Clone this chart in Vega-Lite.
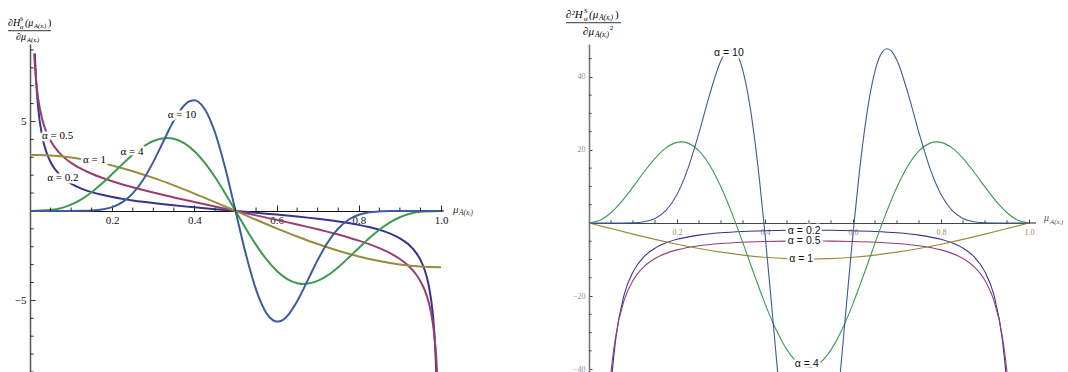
{
  "$schema": "https://vega.github.io/schema/vega-lite/v6.json",
  "background": "white",
  "padding": {"left": 7, "top": 8, "right": 0, "bottom": 0},
  "spacing": 148,
  "bounds": "flush",
  "config": {"view": {"stroke": null}, "axis": {"grid": false, "labelOverlap": false}},
  "datasets": {
    "first": [
      {"mu": 0.0117, "alpha": "0.2", "value": 8.8}, {"mu": 0.015, "alpha": "0.2", "value": 7.233}, {"mu": 0.02, "alpha": "0.2", "value": 5.741}, {"mu": 0.03, "alpha": "0.2", "value": 4.143}, {"mu": 0.04, "alpha": "0.2", "value": 3.283}, {"mu": 0.05, "alpha": "0.2", "value": 2.737}, {"mu": 0.06, "alpha": "0.2", "value": 2.356}, {"mu": 0.08, "alpha": "0.2", "value": 1.853}, {"mu": 0.1, "alpha": "0.2", "value": 1.529}, {"mu": 0.125, "alpha": "0.2", "value": 1.252}, {"mu": 0.15, "alpha": "0.2", "value": 1.053}, {"mu": 0.175, "alpha": "0.2", "value": 0.901}, {"mu": 0.2, "alpha": "0.2", "value": 0.778}, {"mu": 0.225, "alpha": "0.2", "value": 0.675}, {"mu": 0.25, "alpha": "0.2", "value": 0.586}, {"mu": 0.275, "alpha": "0.2", "value": 0.508}, {"mu": 0.3, "alpha": "0.2", "value": 0.438}, {"mu": 0.325, "alpha": "0.2", "value": 0.373}, {"mu": 0.35, "alpha": "0.2", "value": 0.313}, {"mu": 0.375, "alpha": "0.2", "value": 0.256}, {"mu": 0.4, "alpha": "0.2", "value": 0.202}, {"mu": 0.425, "alpha": "0.2", "value": 0.15}, {"mu": 0.45, "alpha": "0.2", "value": 0.099}, {"mu": 0.475, "alpha": "0.2", "value": 0.049}, {"mu": 0.5, "alpha": "0.2", "value": 0}, {"mu": 0.525, "alpha": "0.2", "value": -0.049}, {"mu": 0.55, "alpha": "0.2", "value": -0.099}, {"mu": 0.575, "alpha": "0.2", "value": -0.15}, {"mu": 0.6, "alpha": "0.2", "value": -0.202}, {"mu": 0.625, "alpha": "0.2", "value": -0.256}, {"mu": 0.65, "alpha": "0.2", "value": -0.313}, {"mu": 0.675, "alpha": "0.2", "value": -0.373}, {"mu": 0.7, "alpha": "0.2", "value": -0.438}, {"mu": 0.725, "alpha": "0.2", "value": -0.508}, {"mu": 0.75, "alpha": "0.2", "value": -0.586}, {"mu": 0.775, "alpha": "0.2", "value": -0.675}, {"mu": 0.8, "alpha": "0.2", "value": -0.778}, {"mu": 0.825, "alpha": "0.2", "value": -0.901}, {"mu": 0.85, "alpha": "0.2", "value": -1.053}, {"mu": 0.875, "alpha": "0.2", "value": -1.252}, {"mu": 0.9, "alpha": "0.2", "value": -1.529}, {"mu": 0.92, "alpha": "0.2", "value": -1.853}, {"mu": 0.94, "alpha": "0.2", "value": -2.356}, {"mu": 0.95, "alpha": "0.2", "value": -2.737}, {"mu": 0.96, "alpha": "0.2", "value": -3.283}, {"mu": 0.97, "alpha": "0.2", "value": -4.143}, {"mu": 0.98, "alpha": "0.2", "value": -5.741}, {"mu": 0.985, "alpha": "0.2", "value": -7.233}, {"mu": 0.99, "alpha": "0.2", "value": -10.01},
      {"mu": 0.0101, "alpha": "0.5", "value": 8.8}, {"mu": 0.015, "alpha": "0.5", "value": 7.23}, {"mu": 0.02, "alpha": "0.5", "value": 6.256}, {"mu": 0.03, "alpha": "0.5", "value": 5.098}, {"mu": 0.04, "alpha": "0.5", "value": 4.402}, {"mu": 0.05, "alpha": "0.5", "value": 3.923}, {"mu": 0.06, "alpha": "0.5", "value": 3.564}, {"mu": 0.08, "alpha": "0.5", "value": 3.051}, {"mu": 0.1, "alpha": "0.5", "value": 2.688}, {"mu": 0.125, "alpha": "0.5", "value": 2.346}, {"mu": 0.15, "alpha": "0.5", "value": 2.077}, {"mu": 0.175, "alpha": "0.5", "value": 1.853}, {"mu": 0.2, "alpha": "0.5", "value": 1.658}, {"mu": 0.225, "alpha": "0.5", "value": 1.482}, {"mu": 0.25, "alpha": "0.5", "value": 1.321}, {"mu": 0.275, "alpha": "0.5", "value": 1.17}, {"mu": 0.3, "alpha": "0.5", "value": 1.027}, {"mu": 0.325, "alpha": "0.5", "value": 0.889}, {"mu": 0.35, "alpha": "0.5", "value": 0.756}, {"mu": 0.375, "alpha": "0.5", "value": 0.625}, {"mu": 0.4, "alpha": "0.5", "value": 0.498}, {"mu": 0.425, "alpha": "0.5", "value": 0.372}, {"mu": 0.45, "alpha": "0.5", "value": 0.247}, {"mu": 0.475, "alpha": "0.5", "value": 0.123}, {"mu": 0.5, "alpha": "0.5", "value": 0}, {"mu": 0.525, "alpha": "0.5", "value": -0.123}, {"mu": 0.55, "alpha": "0.5", "value": -0.247}, {"mu": 0.575, "alpha": "0.5", "value": -0.372}, {"mu": 0.6, "alpha": "0.5", "value": -0.498}, {"mu": 0.625, "alpha": "0.5", "value": -0.625}, {"mu": 0.65, "alpha": "0.5", "value": -0.756}, {"mu": 0.675, "alpha": "0.5", "value": -0.889}, {"mu": 0.7, "alpha": "0.5", "value": -1.027}, {"mu": 0.725, "alpha": "0.5", "value": -1.17}, {"mu": 0.75, "alpha": "0.5", "value": -1.321}, {"mu": 0.775, "alpha": "0.5", "value": -1.482}, {"mu": 0.8, "alpha": "0.5", "value": -1.658}, {"mu": 0.825, "alpha": "0.5", "value": -1.853}, {"mu": 0.85, "alpha": "0.5", "value": -2.077}, {"mu": 0.875, "alpha": "0.5", "value": -2.346}, {"mu": 0.9, "alpha": "0.5", "value": -2.688}, {"mu": 0.92, "alpha": "0.5", "value": -3.051}, {"mu": 0.94, "alpha": "0.5", "value": -3.564}, {"mu": 0.95, "alpha": "0.5", "value": -3.923}, {"mu": 0.96, "alpha": "0.5", "value": -4.402}, {"mu": 0.97, "alpha": "0.5", "value": -5.098}, {"mu": 0.98, "alpha": "0.5", "value": -6.256}, {"mu": 0.985, "alpha": "0.5", "value": -7.23}, {"mu": 0.99, "alpha": "0.5", "value": -8.858}, {"mu": 0.995, "alpha": "0.5", "value": -12.53},
      {"mu": 0, "alpha": "1", "value": 3.142}, {"mu": 0.05, "alpha": "1", "value": 3.103}, {"mu": 0.1, "alpha": "1", "value": 2.988}, {"mu": 0.15, "alpha": "1", "value": 2.799}, {"mu": 0.2, "alpha": "1", "value": 2.542}, {"mu": 0.25, "alpha": "1", "value": 2.221}, {"mu": 0.3, "alpha": "1", "value": 1.847}, {"mu": 0.35, "alpha": "1", "value": 1.426}, {"mu": 0.4, "alpha": "1", "value": 0.971}, {"mu": 0.45, "alpha": "1", "value": 0.492}, {"mu": 0.5, "alpha": "1", "value": 0}, {"mu": 0.55, "alpha": "1", "value": -0.492}, {"mu": 0.6, "alpha": "1", "value": -0.971}, {"mu": 0.65, "alpha": "1", "value": -1.426}, {"mu": 0.7, "alpha": "1", "value": -1.847}, {"mu": 0.75, "alpha": "1", "value": -2.221}, {"mu": 0.8, "alpha": "1", "value": -2.542}, {"mu": 0.85, "alpha": "1", "value": -2.799}, {"mu": 0.9, "alpha": "1", "value": -2.988}, {"mu": 0.95, "alpha": "1", "value": -3.103}, {"mu": 1, "alpha": "1", "value": -3.142},
      {"mu": 0, "alpha": "4", "value": 0}, {"mu": 0.05, "alpha": "4", "value": 0.048}, {"mu": 0.08, "alpha": "4", "value": 0.187}, {"mu": 0.1, "alpha": "4", "value": 0.353}, {"mu": 0.125, "alpha": "4", "value": 0.651}, {"mu": 0.15, "alpha": "4", "value": 1.048}, {"mu": 0.175, "alpha": "4", "value": 1.528}, {"mu": 0.2, "alpha": "4", "value": 2.065}, {"mu": 0.225, "alpha": "4", "value": 2.618}, {"mu": 0.25, "alpha": "4", "value": 3.142}, {"mu": 0.275, "alpha": "4", "value": 3.588}, {"mu": 0.3, "alpha": "4", "value": 3.911}, {"mu": 0.3333, "alpha": "4", "value": 4.081}, {"mu": 0.35, "alpha": "4", "value": 4.035}, {"mu": 0.375, "alpha": "4", "value": 3.792}, {"mu": 0.4, "alpha": "4", "value": 3.341}, {"mu": 0.425, "alpha": "4", "value": 2.697}, {"mu": 0.45, "alpha": "4", "value": 1.894}, {"mu": 0.475, "alpha": "4", "value": 0.977}, {"mu": 0.5, "alpha": "4", "value": 0}, {"mu": 0.525, "alpha": "4", "value": -0.977}, {"mu": 0.55, "alpha": "4", "value": -1.894}, {"mu": 0.575, "alpha": "4", "value": -2.697}, {"mu": 0.6, "alpha": "4", "value": -3.341}, {"mu": 0.625, "alpha": "4", "value": -3.792}, {"mu": 0.65, "alpha": "4", "value": -4.035}, {"mu": 0.6667, "alpha": "4", "value": -4.081}, {"mu": 0.7, "alpha": "4", "value": -3.911}, {"mu": 0.725, "alpha": "4", "value": -3.588}, {"mu": 0.75, "alpha": "4", "value": -3.142}, {"mu": 0.775, "alpha": "4", "value": -2.618}, {"mu": 0.8, "alpha": "4", "value": -2.065}, {"mu": 0.825, "alpha": "4", "value": -1.528}, {"mu": 0.85, "alpha": "4", "value": -1.048}, {"mu": 0.875, "alpha": "4", "value": -0.651}, {"mu": 0.9, "alpha": "4", "value": -0.353}, {"mu": 0.92, "alpha": "4", "value": -0.187}, {"mu": 0.95, "alpha": "4", "value": -0.048}, {"mu": 1, "alpha": "4", "value": 0},
      {"mu": 0, "alpha": "10", "value": 0}, {"mu": 0.1, "alpha": "10", "value": 0.001}, {"mu": 0.125, "alpha": "10", "value": 0.005}, {"mu": 0.15, "alpha": "10", "value": 0.023}, {"mu": 0.175, "alpha": "10", "value": 0.078}, {"mu": 0.2, "alpha": "10", "value": 0.213}, {"mu": 0.225, "alpha": "10", "value": 0.491}, {"mu": 0.25, "alpha": "10", "value": 0.982}, {"mu": 0.275, "alpha": "10", "value": 1.734}, {"mu": 0.3, "alpha": "10", "value": 2.742}, {"mu": 0.325, "alpha": "10", "value": 3.91}, {"mu": 0.35, "alpha": "10", "value": 5.048}, {"mu": 0.375, "alpha": "10", "value": 5.896}, {"mu": 0.39, "alpha": "10", "value": 6.149}, {"mu": 0.4, "alpha": "10", "value": 6.18}, {"mu": 0.41, "alpha": "10", "value": 6.087}, {"mu": 0.425, "alpha": "10", "value": 5.7}, {"mu": 0.45, "alpha": "10", "value": 4.396}, {"mu": 0.475, "alpha": "10", "value": 2.397}, {"mu": 0.5, "alpha": "10", "value": 0}, {"mu": 0.525, "alpha": "10", "value": -2.397}, {"mu": 0.55, "alpha": "10", "value": -4.396}, {"mu": 0.575, "alpha": "10", "value": -5.7}, {"mu": 0.59, "alpha": "10", "value": -6.087}, {"mu": 0.6, "alpha": "10", "value": -6.18}, {"mu": 0.61, "alpha": "10", "value": -6.149}, {"mu": 0.625, "alpha": "10", "value": -5.896}, {"mu": 0.65, "alpha": "10", "value": -5.048}, {"mu": 0.675, "alpha": "10", "value": -3.91}, {"mu": 0.7, "alpha": "10", "value": -2.742}, {"mu": 0.725, "alpha": "10", "value": -1.734}, {"mu": 0.75, "alpha": "10", "value": -0.982}, {"mu": 0.775, "alpha": "10", "value": -0.491}, {"mu": 0.8, "alpha": "10", "value": -0.213}, {"mu": 0.825, "alpha": "10", "value": -0.078}, {"mu": 0.85, "alpha": "10", "value": -0.023}, {"mu": 0.875, "alpha": "10", "value": -0.005}, {"mu": 0.9, "alpha": "10", "value": -0.001}, {"mu": 1, "alpha": "10", "value": 0}
    ],
    "second": [
      {"mu": 0.045, "alpha": "0.2", "value": -54.02}, {"mu": 0.05, "alpha": "0.2", "value": -44.79}, {"mu": 0.06, "alpha": "0.2", "value": -32.46}, {"mu": 0.08, "alpha": "0.2", "value": -19.63}, {"mu": 0.1, "alpha": "0.2", "value": -13.39}, {"mu": 0.125, "alpha": "0.2", "value": -9.22}, {"mu": 0.15, "alpha": "0.2", "value": -6.88}, {"mu": 0.175, "alpha": "0.2", "value": -5.43}, {"mu": 0.2, "alpha": "0.2", "value": -4.47}, {"mu": 0.25, "alpha": "0.2", "value": -3.32}, {"mu": 0.3, "alpha": "0.2", "value": -2.69}, {"mu": 0.35, "alpha": "0.2", "value": -2.33}, {"mu": 0.4, "alpha": "0.2", "value": -2.12}, {"mu": 0.45, "alpha": "0.2", "value": -2.01}, {"mu": 0.5, "alpha": "0.2", "value": -1.97}, {"mu": 0.55, "alpha": "0.2", "value": -2.01}, {"mu": 0.6, "alpha": "0.2", "value": -2.12}, {"mu": 0.65, "alpha": "0.2", "value": -2.33}, {"mu": 0.7, "alpha": "0.2", "value": -2.69}, {"mu": 0.75, "alpha": "0.2", "value": -3.32}, {"mu": 0.8, "alpha": "0.2", "value": -4.47}, {"mu": 0.825, "alpha": "0.2", "value": -5.43}, {"mu": 0.85, "alpha": "0.2", "value": -6.88}, {"mu": 0.875, "alpha": "0.2", "value": -9.22}, {"mu": 0.9, "alpha": "0.2", "value": -13.39}, {"mu": 0.92, "alpha": "0.2", "value": -19.63}, {"mu": 0.94, "alpha": "0.2", "value": -32.46}, {"mu": 0.95, "alpha": "0.2", "value": -44.79}, {"mu": 0.955, "alpha": "0.2", "value": -54.02},
      {"mu": 0.045, "alpha": "0.5", "value": -47.58}, {"mu": 0.05, "alpha": "0.5", "value": -40.85}, {"mu": 0.06, "alpha": "0.5", "value": -31.49}, {"mu": 0.08, "alpha": "0.5", "value": -21.12}, {"mu": 0.1, "alpha": "0.5", "value": -15.74}, {"mu": 0.125, "alpha": "0.5", "value": -11.95}, {"mu": 0.15, "alpha": "0.5", "value": -9.73}, {"mu": 0.175, "alpha": "0.5", "value": -8.32}, {"mu": 0.2, "alpha": "0.5", "value": -7.37}, {"mu": 0.25, "alpha": "0.5", "value": -6.23}, {"mu": 0.3, "alpha": "0.5", "value": -5.61}, {"mu": 0.35, "alpha": "0.5", "value": -5.26}, {"mu": 0.4, "alpha": "0.5", "value": -5.07}, {"mu": 0.45, "alpha": "0.5", "value": -4.97}, {"mu": 0.5, "alpha": "0.5", "value": -4.93}, {"mu": 0.55, "alpha": "0.5", "value": -4.97}, {"mu": 0.6, "alpha": "0.5", "value": -5.07}, {"mu": 0.65, "alpha": "0.5", "value": -5.26}, {"mu": 0.7, "alpha": "0.5", "value": -5.61}, {"mu": 0.75, "alpha": "0.5", "value": -6.23}, {"mu": 0.8, "alpha": "0.5", "value": -7.37}, {"mu": 0.825, "alpha": "0.5", "value": -8.32}, {"mu": 0.85, "alpha": "0.5", "value": -9.73}, {"mu": 0.875, "alpha": "0.5", "value": -11.95}, {"mu": 0.9, "alpha": "0.5", "value": -15.74}, {"mu": 0.92, "alpha": "0.5", "value": -21.12}, {"mu": 0.94, "alpha": "0.5", "value": -31.49}, {"mu": 0.95, "alpha": "0.5", "value": -40.85}, {"mu": 0.955, "alpha": "0.5", "value": -47.58},
      {"mu": 0, "alpha": "1", "value": 0}, {"mu": 0.05, "alpha": "1", "value": -1.544}, {"mu": 0.1, "alpha": "1", "value": -3.05}, {"mu": 0.15, "alpha": "1", "value": -4.481}, {"mu": 0.2, "alpha": "1", "value": -5.801}, {"mu": 0.25, "alpha": "1", "value": -6.979}, {"mu": 0.3, "alpha": "1", "value": -7.985}, {"mu": 0.35, "alpha": "1", "value": -8.794}, {"mu": 0.4, "alpha": "1", "value": -9.387}, {"mu": 0.45, "alpha": "1", "value": -9.748}, {"mu": 0.5, "alpha": "1", "value": -9.87}, {"mu": 0.55, "alpha": "1", "value": -9.748}, {"mu": 0.6, "alpha": "1", "value": -9.387}, {"mu": 0.65, "alpha": "1", "value": -8.794}, {"mu": 0.7, "alpha": "1", "value": -7.985}, {"mu": 0.75, "alpha": "1", "value": -6.979}, {"mu": 0.8, "alpha": "1", "value": -5.801}, {"mu": 0.85, "alpha": "1", "value": -4.481}, {"mu": 0.9, "alpha": "1", "value": -3.05}, {"mu": 0.95, "alpha": "1", "value": -1.544}, {"mu": 1, "alpha": "1", "value": 0},
      {"mu": 0, "alpha": "4", "value": 0}, {"mu": 0.025, "alpha": "4", "value": 0.723}, {"mu": 0.05, "alpha": "4", "value": 2.806}, {"mu": 0.075, "alpha": "4", "value": 5.985}, {"mu": 0.1, "alpha": "4", "value": 9.87}, {"mu": 0.125, "alpha": "4", "value": 13.957}, {"mu": 0.15, "alpha": "4", "value": 17.702}, {"mu": 0.175, "alpha": "4", "value": 20.564}, {"mu": 0.2, "alpha": "4", "value": 22.069}, {"mu": 0.21, "alpha": "4", "value": 22.206}, {"mu": 0.225, "alpha": "4", "value": 21.861}, {"mu": 0.25, "alpha": "4", "value": 19.739}, {"mu": 0.275, "alpha": "4", "value": 15.685}, {"mu": 0.3, "alpha": "4", "value": 9.87}, {"mu": 0.325, "alpha": "4", "value": 2.641}, {"mu": 0.35, "alpha": "4", "value": -5.503}, {"mu": 0.375, "alpha": "4", "value": -13.957}, {"mu": 0.4, "alpha": "4", "value": -22.069}, {"mu": 0.425, "alpha": "4", "value": -29.19}, {"mu": 0.45, "alpha": "4", "value": -34.742}, {"mu": 0.475, "alpha": "4", "value": -38.269}, {"mu": 0.5, "alpha": "4", "value": -39.478}, {"mu": 0.525, "alpha": "4", "value": -38.269}, {"mu": 0.55, "alpha": "4", "value": -34.742}, {"mu": 0.575, "alpha": "4", "value": -29.19}, {"mu": 0.6, "alpha": "4", "value": -22.069}, {"mu": 0.625, "alpha": "4", "value": -13.957}, {"mu": 0.65, "alpha": "4", "value": -5.503}, {"mu": 0.675, "alpha": "4", "value": 2.641}, {"mu": 0.7, "alpha": "4", "value": 9.87}, {"mu": 0.725, "alpha": "4", "value": 15.685}, {"mu": 0.75, "alpha": "4", "value": 19.739}, {"mu": 0.775, "alpha": "4", "value": 21.861}, {"mu": 0.79, "alpha": "4", "value": 22.206}, {"mu": 0.8, "alpha": "4", "value": 22.069}, {"mu": 0.825, "alpha": "4", "value": 20.564}, {"mu": 0.85, "alpha": "4", "value": 17.702}, {"mu": 0.875, "alpha": "4", "value": 13.957}, {"mu": 0.9, "alpha": "4", "value": 9.87}, {"mu": 0.925, "alpha": "4", "value": 5.985}, {"mu": 0.95, "alpha": "4", "value": 2.806}, {"mu": 0.975, "alpha": "4", "value": 0.723}, {"mu": 1, "alpha": "4", "value": 0},
      {"mu": 0, "alpha": "10", "value": 0}, {"mu": 0.05, "alpha": "10", "value": 0}, {"mu": 0.1, "alpha": "10", "value": 0.066}, {"mu": 0.125, "alpha": "10", "value": 0.342}, {"mu": 0.15, "alpha": "10", "value": 1.237}, {"mu": 0.175, "alpha": "10", "value": 3.436}, {"mu": 0.2, "alpha": "10", "value": 7.796}, {"mu": 0.225, "alpha": "10", "value": 14.941}, {"mu": 0.25, "alpha": "10", "value": 24.674}, {"mu": 0.275, "alpha": "10", "value": 35.503}, {"mu": 0.3, "alpha": "10", "value": 44.465}, {"mu": 0.3125, "alpha": "10", "value": 47.05}, {"mu": 0.3225, "alpha": "10", "value": 47.7}, {"mu": 0.3375, "alpha": "10", "value": 45.99}, {"mu": 0.35, "alpha": "10", "value": 41.604}, {"mu": 0.3625, "alpha": "10", "value": 34.37}, {"mu": 0.375, "alpha": "10", "value": 24.333}, {"mu": 0.3875, "alpha": "10", "value": 11.728}, {"mu": 0.4, "alpha": "10", "value": -2.978}, {"mu": 0.4125, "alpha": "10", "value": -19.13}, {"mu": 0.425, "alpha": "10", "value": -35.89}, {"mu": 0.4375, "alpha": "10", "value": -52.34}, {"mu": 0.45, "alpha": "10", "value": -67.5}, {"mu": 0.5, "alpha": "10", "value": -98.7}, {"mu": 0.55, "alpha": "10", "value": -67.5}, {"mu": 0.5625, "alpha": "10", "value": -52.34}, {"mu": 0.575, "alpha": "10", "value": -35.89}, {"mu": 0.5875, "alpha": "10", "value": -19.13}, {"mu": 0.6, "alpha": "10", "value": -2.978}, {"mu": 0.6125, "alpha": "10", "value": 11.728}, {"mu": 0.625, "alpha": "10", "value": 24.333}, {"mu": 0.6375, "alpha": "10", "value": 34.37}, {"mu": 0.65, "alpha": "10", "value": 41.604}, {"mu": 0.6625, "alpha": "10", "value": 45.99}, {"mu": 0.6775, "alpha": "10", "value": 47.7}, {"mu": 0.6875, "alpha": "10", "value": 47.05}, {"mu": 0.7, "alpha": "10", "value": 44.465}, {"mu": 0.725, "alpha": "10", "value": 35.503}, {"mu": 0.75, "alpha": "10", "value": 24.674}, {"mu": 0.775, "alpha": "10", "value": 14.941}, {"mu": 0.8, "alpha": "10", "value": 7.796}, {"mu": 0.825, "alpha": "10", "value": 3.436}, {"mu": 0.85, "alpha": "10", "value": 1.237}, {"mu": 0.875, "alpha": "10", "value": 0.342}, {"mu": 0.9, "alpha": "10", "value": 0.066}, {"mu": 0.95, "alpha": "10", "value": 0}, {"mu": 1, "alpha": "10", "value": 0}
    ],
    "lab1": [
      {"mu": 0.37, "value": 5.36, "text": "α = 10"},
      {"mu": 0.248, "value": 3.3, "text": "α = 4"},
      {"mu": 0.157, "value": 2.85, "text": "α = 1"},
      {"mu": 0.067, "value": 4.19, "text": "α = 0.5"},
      {"mu": 0.08, "value": 1.84, "text": "α = 0.2"}
    ],
    "lab2": [
      {"mu": 0.318, "value": 46.6, "text": "α = 10"},
      {"mu": 0.489, "value": -2.1, "text": "α = 0.2"},
      {"mu": 0.489, "value": -4.9, "text": "α = 0.5"},
      {"mu": 0.482, "value": -9.9, "text": "α = 1"},
      {"mu": 0.495, "value": -38.6, "text": "α = 4"}
    ],
    "xminor": [{"t": 0.05}, {"t": 0.1}, {"t": 0.15}, {"t": 0.25}, {"t": 0.3}, {"t": 0.35}, {"t": 0.45}, {"t": 0.5}, {"t": 0.55}, {"t": 0.65}, {"t": 0.7}, {"t": 0.75}, {"t": 0.85}, {"t": 0.9}, {"t": 0.95}],
    "yminor1": [{"t": -9}, {"t": -8}, {"t": -7}, {"t": -6}, {"t": -4}, {"t": -3}, {"t": -2}, {"t": -1}, {"t": 1}, {"t": 2}, {"t": 3}, {"t": 4}, {"t": 6}, {"t": 7}, {"t": 8}, {"t": 9}],
    "yminor2": [{"t": -35}, {"t": -30}, {"t": -25}, {"t": -15}, {"t": -10}, {"t": -5}, {"t": 5}, {"t": 10}, {"t": 15}, {"t": 25}, {"t": 30}, {"t": 35}, {"t": 45}],
    "one": [{}]
  },
  "hconcat": [
    {
      "width": 411,
      "height": 328,
      "layer": [
        {
          "data": {"name": "first"},
          "mark": {"type": "line", "interpolate": "monotone", "clip": true},
          "encoding": {
            "x": {"field": "mu", "type": "quantitative",
              "scale": {"domain": [0, 1], "nice": false, "zero": false},
              "axis": {"orient": "bottom", "offset": -161, "title": null, "grid": false,
                "values": [0.2, 0.4, 0.6, 0.8, 1.0], "format": ".1f",
                "tickSize": -6, "tickColor": "#222", "labelPadding": 9,
                "labelFont": "Liberation Serif", "labelFontSize": 11, "labelColor": "#111",
                "labelOverlap": false, "labelFlush": false,
                "domainColor": "#111", "domainWidth": 1.2}},
            "y": {"field": "value", "type": "quantitative",
              "scale": {"domain": [-9.0, 9.33], "nice": false, "zero": false},
              "axis": {"orient": "left", "title": null, "grid": false,
                "values": [-5, 5], "format": "d",
                "tickSize": -5, "tickColor": "#333", "labelPadding": 9,
                "labelFont": "Liberation Serif", "labelFontSize": 11, "labelColor": "#111",
                "labelOverlap": false,
                "domainColor": "#555", "domainWidth": 1.5}},
            "color": {"field": "alpha", "type": "nominal",
              "scale": {"domain": ["0.2", "0.5", "1", "4", "10"], "range": ["#34348e", "#993d71", "#998b3d", "#3d9950", "#3d5b9e"]},
              "legend": null},
            "strokeWidth": {"field": "alpha", "type": "ordinal",
              "scale": {"domain": ["0.2", "0.5", "1", "4", "10"], "range": [2, 2, 2, 2, 1.3]},
              "legend": null}
          }
        },
        {"data": {"name": "xminor"}, "mark": {"type": "rule", "color": "#222", "strokeWidth": 1}, "encoding": {"x": {"field": "t", "type": "quantitative"}, "y": {"datum": 0}, "y2": {"datum": 0.19}}},
        {"data": {"name": "yminor1"}, "mark": {"type": "rule", "color": "#333", "strokeWidth": 1}, "encoding": {"y": {"field": "t", "type": "quantitative"}, "x": {"datum": 0}, "x2": {"datum": 0.009}}},
        {"data": {"name": "one"}, "mark": {"type": "rule", "color": "#111", "strokeWidth": 1.2}, "encoding": {"x": {"datum": 1}, "x2": {"datum": 1.007}, "y": {"datum": 0}}},
        {
          "data": {"name": "lab1"},
          "mark": {"type": "text", "font": "Liberation Serif", "fontSize": 11, "fill": "white", "stroke": "white", "strokeWidth": 5, "strokeJoin": "round"},
          "encoding": {"x": {"field": "mu", "type": "quantitative"}, "y": {"field": "value", "type": "quantitative"}, "text": {"field": "text"}}
        },
        {
          "data": {"name": "lab1"},
          "mark": {"type": "text", "font": "Liberation Serif", "fontSize": 11, "color": "#000"},
          "encoding": {"x": {"field": "mu", "type": "quantitative"}, "y": {"field": "value", "type": "quantitative"}, "text": {"field": "text"}}
        },
        {"data": {"name": "one"}, "mark": {"type": "text", "text": "∂H", "align": "left", "baseline": "middle", "font": "Liberation Serif", "fontSize": 10, "fontStyle": "italic", "dx": -22, "dy": -21, "color": "#000"}, "encoding": {"x": {"datum": 0}, "y": {"datum": 9.33}}},
        {"data": {"name": "one"}, "mark": {"type": "text", "text": "S", "align": "left", "baseline": "middle", "font": "Liberation Serif", "fontSize": 6, "dx": -10, "dy": -25, "color": "#000"}, "encoding": {"x": {"datum": 0}, "y": {"datum": 9.33}}},
        {"data": {"name": "one"}, "mark": {"type": "text", "text": "α", "align": "left", "baseline": "middle", "font": "Liberation Serif", "fontSize": 6.5, "fontStyle": "italic", "dx": -10, "dy": -17, "color": "#000"}, "encoding": {"x": {"datum": 0}, "y": {"datum": 9.33}}},
        {"data": {"name": "one"}, "mark": {"type": "text", "text": "(μ", "align": "left", "baseline": "middle", "font": "Liberation Serif", "fontSize": 10, "fontStyle": "italic", "dx": -5, "dy": -21, "color": "#000"}, "encoding": {"x": {"datum": 0}, "y": {"datum": 9.33}}},
        {"data": {"name": "one"}, "mark": {"type": "text", "text": "A(xᵢ)", "align": "left", "baseline": "middle", "font": "Liberation Serif", "fontSize": 6.5, "fontStyle": "italic", "dx": 4, "dy": -18, "color": "#000"}, "encoding": {"x": {"datum": 0}, "y": {"datum": 9.33}}},
        {"data": {"name": "one"}, "mark": {"type": "text", "text": ")", "align": "left", "baseline": "middle", "font": "Liberation Serif", "fontSize": 10, "dx": 18, "dy": -21, "color": "#000"}, "encoding": {"x": {"datum": 0}, "y": {"datum": 9.33}}},
        {"data": {"name": "one"}, "mark": {"type": "rule", "color": "#000", "strokeWidth": 0.8}, "encoding": {"x": {"datum": -0.0535}, "x2": {"datum": 0.0511}, "y": {"datum": 10.073}}},
        {"data": {"name": "one"}, "mark": {"type": "text", "text": "∂μ", "align": "left", "baseline": "middle", "font": "Liberation Serif", "fontSize": 10, "fontStyle": "italic", "dx": -14, "dy": -7, "color": "#000"}, "encoding": {"x": {"datum": 0}, "y": {"datum": 9.33}}},
        {"data": {"name": "one"}, "mark": {"type": "text", "text": "A(xᵢ)", "align": "left", "baseline": "middle", "font": "Liberation Serif", "fontSize": 6.5, "fontStyle": "italic", "dx": -3, "dy": -4, "color": "#000"}, "encoding": {"x": {"datum": 0}, "y": {"datum": 9.33}}},
        {"data": {"name": "one"}, "mark": {"type": "text", "text": "μ", "align": "left", "baseline": "middle", "font": "Liberation Serif", "fontSize": 11, "fontStyle": "italic", "dx": 12, "dy": -1, "color": "#333"}, "encoding": {"x": {"datum": 1}, "y": {"datum": 0}}},
        {"data": {"name": "one"}, "mark": {"type": "text", "text": "A(xᵢ)", "align": "left", "baseline": "middle", "font": "Liberation Serif", "fontSize": 7.5, "fontStyle": "italic", "dx": 18, "dy": 2, "color": "#333"}, "encoding": {"x": {"datum": 1}, "y": {"datum": 0}}}
      ]
    },
    {
      "width": 440,
      "height": 328,
      "layer": [
        {
          "data": {"name": "second"},
          "mark": {"type": "line", "interpolate": "monotone", "clip": true, "strokeWidth": 1.1},
          "encoding": {
            "x": {"field": "mu", "type": "quantitative",
              "scale": {"domain": [0, 1], "nice": false, "zero": false},
              "axis": {"orient": "bottom", "offset": -149, "title": null, "grid": false,
                "values": [0.2, 0.4, 0.6, 0.8, 1.0], "format": ".1f",
                "tickSize": -4, "tickColor": "#444", "labelPadding": 9,
                "labelFont": "Liberation Serif", "labelFontSize": 8, "labelColor": "#a88a66",
                "labelOverlap": false, "labelFlush": false,
                "domainColor": "#444", "domainWidth": 1.2}},
            "y": {"field": "value", "type": "quantitative",
              "scale": {"domain": [-40.8, 49.0], "nice": false, "zero": false},
              "axis": {"orient": "left", "title": null, "grid": false,
                "values": [-40, -20, 20, 40], "format": "d",
                "tickSize": -3, "tickColor": "#444", "labelPadding": 7,
                "labelFont": "Liberation Serif", "labelFontSize": 8, "labelColor": "#8a8f99",
                "labelOverlap": false,
                "domainColor": "#777", "domainWidth": 1.6}},
            "color": {"field": "alpha", "type": "nominal",
              "scale": {"domain": ["0.2", "0.5", "1", "4", "10"], "range": ["#4343a3", "#a84f80", "#a09040", "#6fbf80", "#4a66ac"]},
              "legend": null}
          }
        },
        {"data": {"name": "xminor"}, "mark": {"type": "rule", "color": "#444", "strokeWidth": 1}, "encoding": {"x": {"field": "t", "type": "quantitative"}, "y": {"datum": 0}, "y2": {"datum": 0.75}}},
        {"data": {"name": "yminor2"}, "mark": {"type": "rule", "color": "#444", "strokeWidth": 1}, "encoding": {"y": {"field": "t", "type": "quantitative"}, "x": {"datum": 0}, "x2": {"datum": 0.006}}},
        {"data": {"name": "one"}, "mark": {"type": "rule", "color": "#444", "strokeWidth": 1.2}, "encoding": {"x": {"datum": 1}, "x2": {"datum": 1.016}, "y": {"datum": 0}}},
        {
          "data": {"name": "lab2"},
          "mark": {"type": "text", "font": "Liberation Sans", "fontSize": 10.5, "fill": "white", "stroke": "white", "strokeWidth": 5, "strokeJoin": "round"},
          "encoding": {"x": {"field": "mu", "type": "quantitative"}, "y": {"field": "value", "type": "quantitative"}, "text": {"field": "text"}}
        },
        {
          "data": {"name": "lab2"},
          "mark": {"type": "text", "font": "Liberation Sans", "fontSize": 10.5, "color": "#111"},
          "encoding": {"x": {"field": "mu", "type": "quantitative"}, "y": {"field": "value", "type": "quantitative"}, "text": {"field": "text"}}
        },
        {"data": {"name": "one"}, "mark": {"type": "text", "text": "∂²H", "align": "left", "baseline": "middle", "font": "Liberation Serif", "fontSize": 11, "fontStyle": "italic", "dx": -23, "dy": -29, "color": "#000"}, "encoding": {"x": {"datum": 0}, "y": {"datum": 49.0}}},
        {"data": {"name": "one"}, "mark": {"type": "text", "text": "S", "align": "left", "baseline": "middle", "font": "Liberation Serif", "fontSize": 6.5, "dx": -5, "dy": -33, "color": "#000"}, "encoding": {"x": {"datum": 0}, "y": {"datum": 49.0}}},
        {"data": {"name": "one"}, "mark": {"type": "text", "text": "α", "align": "left", "baseline": "middle", "font": "Liberation Serif", "fontSize": 7, "fontStyle": "italic", "dx": -5, "dy": -25, "color": "#000"}, "encoding": {"x": {"datum": 0}, "y": {"datum": 49.0}}},
        {"data": {"name": "one"}, "mark": {"type": "text", "text": "(μ", "align": "left", "baseline": "middle", "font": "Liberation Serif", "fontSize": 11, "fontStyle": "italic", "dx": 0, "dy": -29, "color": "#000"}, "encoding": {"x": {"datum": 0}, "y": {"datum": 49.0}}},
        {"data": {"name": "one"}, "mark": {"type": "text", "text": "A(xᵢ)", "align": "left", "baseline": "middle", "font": "Liberation Serif", "fontSize": 7.5, "fontStyle": "italic", "dx": 10, "dy": -26, "color": "#000"}, "encoding": {"x": {"datum": 0}, "y": {"datum": 49.0}}},
        {"data": {"name": "one"}, "mark": {"type": "text", "text": ")", "align": "left", "baseline": "middle", "font": "Liberation Serif", "fontSize": 11, "dx": 26, "dy": -29, "color": "#000"}, "encoding": {"x": {"datum": 0}, "y": {"datum": 49.0}}},
        {"data": {"name": "one"}, "mark": {"type": "rule", "color": "#000", "strokeWidth": 0.8}, "encoding": {"x": {"datum": -0.0523}, "x2": {"datum": 0.0727}, "y": {"datum": 54.83}}},
        {"data": {"name": "one"}, "mark": {"type": "text", "text": "∂μ", "align": "left", "baseline": "middle", "font": "Liberation Serif", "fontSize": 11, "fontStyle": "italic", "dx": -6, "dy": -12, "color": "#000"}, "encoding": {"x": {"datum": 0}, "y": {"datum": 49.0}}},
        {"data": {"name": "one"}, "mark": {"type": "text", "text": "A(xᵢ)", "align": "left", "baseline": "middle", "font": "Liberation Serif", "fontSize": 7.5, "fontStyle": "italic", "dx": 6, "dy": -9, "color": "#000"}, "encoding": {"x": {"datum": 0}, "y": {"datum": 49.0}}},
        {"data": {"name": "one"}, "mark": {"type": "text", "text": "2", "align": "left", "baseline": "middle", "font": "Liberation Serif", "fontSize": 6.5, "dx": 21, "dy": -16, "color": "#000"}, "encoding": {"x": {"datum": 0}, "y": {"datum": 49.0}}},
        {"data": {"name": "one"}, "mark": {"type": "text", "text": "μ", "align": "left", "baseline": "middle", "font": "Liberation Serif", "fontSize": 10, "fontStyle": "italic", "dx": 15, "dy": -5, "color": "#555"}, "encoding": {"x": {"datum": 1}, "y": {"datum": 0}}},
        {"data": {"name": "one"}, "mark": {"type": "text", "text": "A(xᵢ)", "align": "left", "baseline": "middle", "font": "Liberation Serif", "fontSize": 7, "fontStyle": "italic", "dx": 21, "dy": -1, "color": "#555"}, "encoding": {"x": {"datum": 1}, "y": {"datum": 0}}}
      ]
    }
  ]
}
